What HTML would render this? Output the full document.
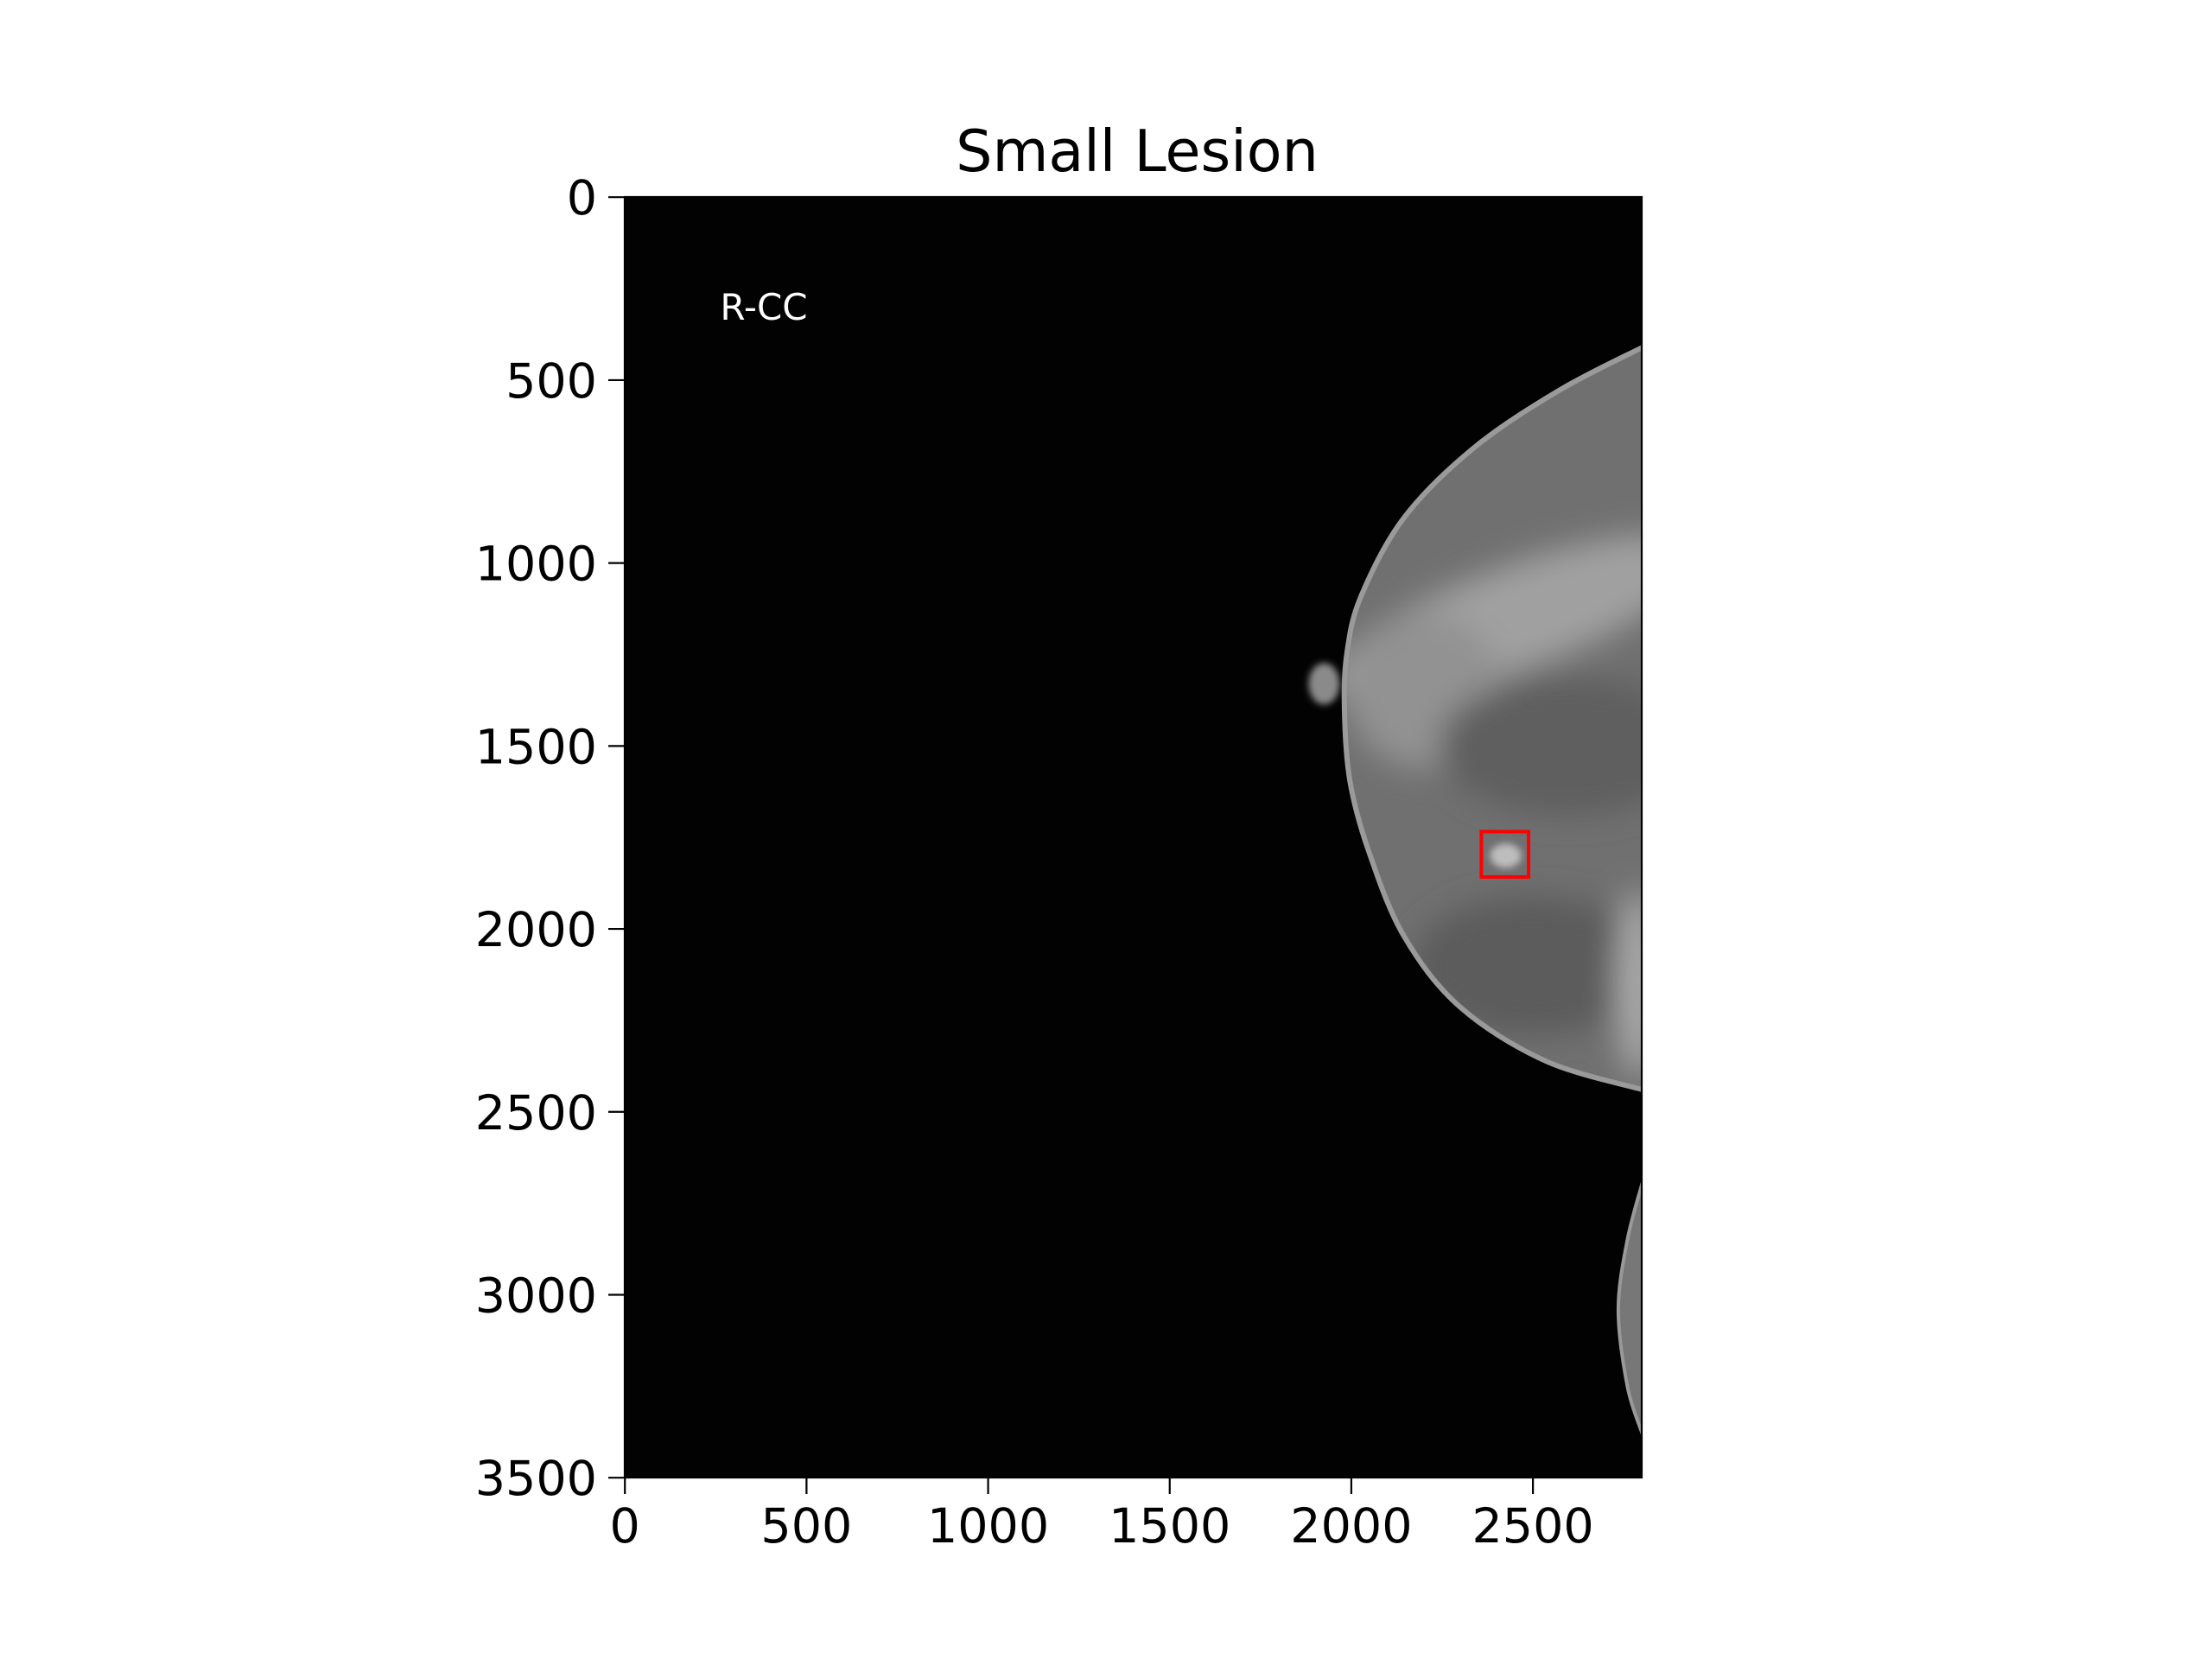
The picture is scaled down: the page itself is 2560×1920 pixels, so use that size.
<!DOCTYPE html>
<html><head><meta charset="utf-8"><style>
html,body{margin:0;padding:0;background:#fff;}
svg{display:block;}
text{font-family:"DejaVu Sans","Liberation Sans",sans-serif;}
</style></head><body>
<svg id="chart" width="2560" height="1920" viewBox="0 0 2560 1920">
<defs>
<filter id="blur" x="-50%" y="-50%" width="200%" height="200%"><feGaussianBlur stdDeviation="18"/></filter>
<filter id="blur2" x="-50%" y="-50%" width="200%" height="200%"><feGaussianBlur stdDeviation="4"/></filter>
<clipPath id="axclip"><rect x="723" y="228" width="1177" height="1482"/></clipPath>
<clipPath id="breastclip"><path id="bclip"/></clipPath>
</defs>
<text x="1316" y="198" font-size="66.7" text-anchor="middle">Small Lesion</text>
<rect x="723" y="228" width="1177" height="1482" fill="#020202"/>
<g id="img" clip-path="url(#axclip)"></g>
<text x="884" y="370" font-size="42" fill="#fff" text-anchor="middle" font-family="Liberation Sans, sans-serif">R-CC</text>
<g id="axes"></g>
</svg>
<script>
const xTicks=[0,500,1000,1500,2000,2500];
const yTicks=[0,500,1000,1500,2000,2500,3000,3500];
const imgW=2800, imgH=3500;
const breastOutline=[[2800,411],[2574,527],[2340,683],[2145,876],[2027,1090],[1988,1245],[1981,1400],[1996,1595],[2048,1788],[2145,2020],[2300,2214],[2535,2361],[2800,2439]];
const secondOutline=[[2800,2698],[2760,2850],[2735,3040],[2760,3250],[2800,3377]];
const lesionBox=[2358,1734,130,124];
const L=723,T=228,R=1900,B=1710;
const sx=v=>L+(v+0.5)*(R-L)/imgW;
const sy=v=>T+(v+0.5)*(B-T)/imgH;
const NS="http://www.w3.org/2000/svg";
function mk(tag,attrs,parent){const e=document.createElementNS(NS,tag);for(const k in attrs)e.setAttribute(k,attrs[k]);parent.appendChild(e);return e;}
const img=document.getElementById('img');
function crPath(pts){const P=pts.map(p=>[sx(p[0]),sy(p[1])]);let d='M'+P[0][0]+','+P[0][1];
 for(let i=0;i<P.length-1;i++){const p0=P[Math.max(i-1,0)],p1=P[i],p2=P[i+1],p3=P[Math.min(i+2,P.length-1)];
  const c1=[p1[0]+(p2[0]-p0[0])/6,p1[1]+(p2[1]-p0[1])/6],c2=[p2[0]-(p3[0]-p1[0])/6,p2[1]-(p3[1]-p1[1])/6];
  d+=' C'+c1[0]+','+c1[1]+' '+c2[0]+','+c2[1]+' '+p2[0]+','+p2[1];}
 const last=P[P.length-1];d+=' L'+(R+10)+','+last[1]+' L'+(R+10)+','+P[0][1]+'Z';return d;}
const bd=crPath(breastOutline);
document.getElementById('bclip').setAttribute('d',bd);
const bp=mk('path',{d:bd,fill:'#707070'},img);


const g2=mk('g',{'clip-path':'url(#breastclip)'},img);
const g3=mk('g',{filter:'url(#blur)'},g2);
mk('ellipse',{cx:sx(2450),cy:sy(1150),rx:230,ry:60,fill:'#a0a0a0',transform:'rotate(-20 '+sx(2450)+' '+sy(1150)+')'},g3);
mk('ellipse',{cx:sx(2200),cy:sy(1350),rx:90,ry:90,fill:'#929292'},g3);
mk('ellipse',{cx:sx(2600),cy:sy(1500),rx:150,ry:80,fill:'#5e5e5e'},g3);
mk('ellipse',{cx:sx(2500),cy:sy(2100),rx:140,ry:80,fill:'#5c5c5c'},g3);
mk('ellipse',{cx:sx(2790),cy:sy(2150),rx:25,ry:110,fill:'#aaa'},g3);
mk('path',{d:bd,fill:'none',stroke:'#9a9a9a','stroke-width':6},img);
const nip=mk('ellipse',{cx:sx(1925),cy:sy(1330),rx:18,ry:24,fill:'#8a8a8a',filter:'url(#blur2)'},img);


mk('ellipse',{cx:sx(2425),cy:sy(1800),rx:18,ry:14,fill:'#bdbdbd',filter:'url(#blur2)'},img);
const sp=mk('path',{d:crPath(secondOutline),fill:'#777',stroke:'#999','stroke-width':4},img);


const box=mk('rect',{x:sx(lesionBox[0]),y:sy(lesionBox[1]),width:lesionBox[2]*(R-L)/imgW,height:lesionBox[3]*(B-T)/imgH,fill:'none',stroke:'#ff0000','stroke-width':4},document.getElementById('chart'));


const ax=document.getElementById('axes');
mk('rect',{x:L,y:T,width:R-L,height:B-T,fill:'none',stroke:'#000','stroke-width':2.2},ax);
xTicks.forEach(v=>{const x=sx(v);
 const t=mk('line',{x1:x,x2:x,y1:B,y2:B+19,stroke:'#000','stroke-width':2.2},ax);
 
 
 const lb=mk('text',{x:x,y:B+75,'font-size':55.5,'text-anchor':'middle'},ax);lb.textContent=v;
 
 });
yTicks.forEach(v=>{const y=sy(v);
 const t=mk('line',{x1:L-19,x2:L,y1:y,y2:y,stroke:'#000','stroke-width':2.2},ax);
 
 
 const lb=mk('text',{x:L-32,y:y+20,'font-size':55.5,'text-anchor':'end'},ax);lb.textContent=v;
 
 });
</script>
</body></html>
